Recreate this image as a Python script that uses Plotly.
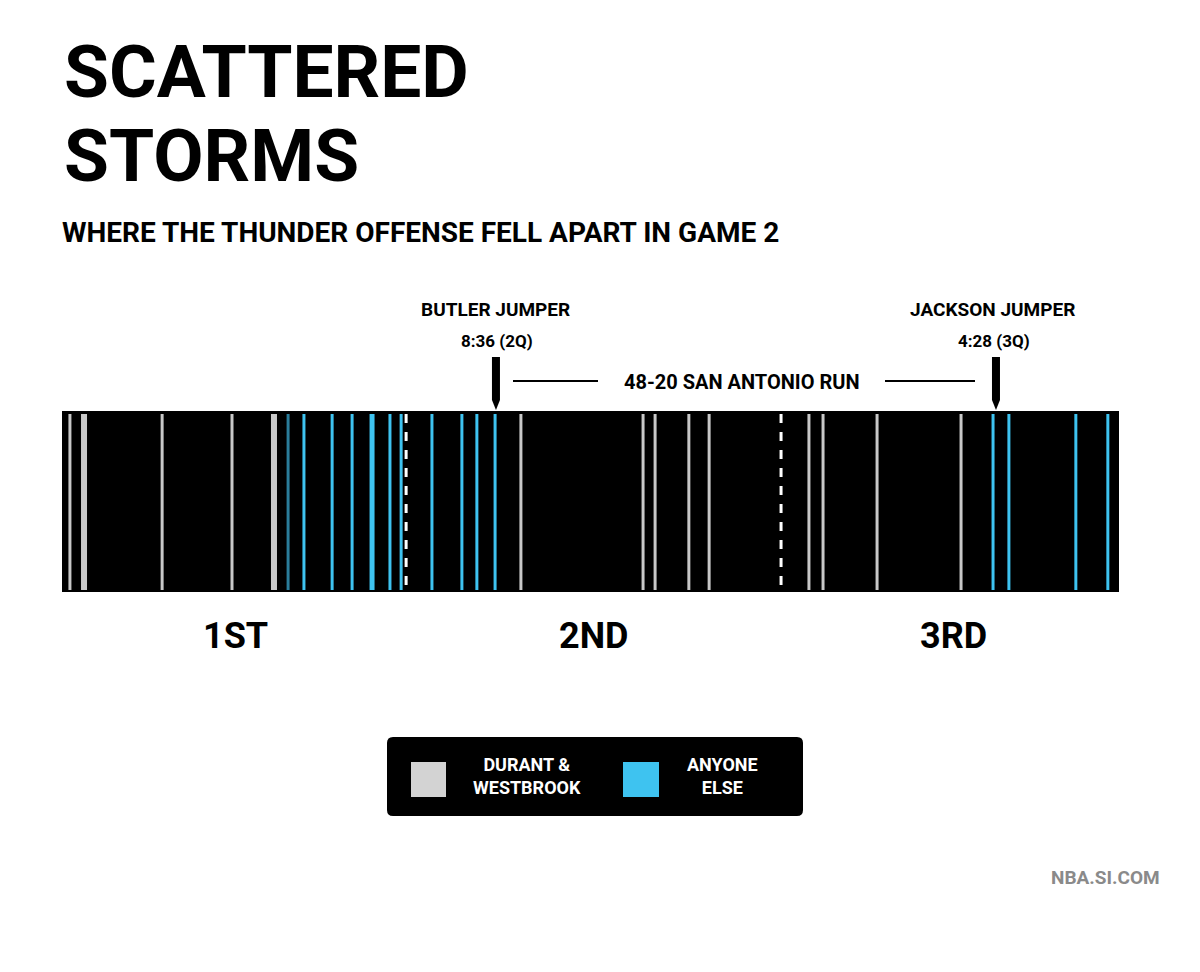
import plotly.graph_objects as go

# shot times, in elapsed game minutes
star_shots = [0.27, 0.75, 3.41, 5.79, 7.22, 15.63, 19.79, 20.20, 21.35, 22.04, 25.44, 25.92, 27.76, 30.62]
star_wide = [False, True, False, False, True, False, False, False, False, False, False, False, False, False]
other_shots = [7.70, 8.24, 9.20, 9.88, 10.56, 11.17, 11.55, 12.60, 13.62, 14.13, 14.75, 31.71, 32.25, 34.53, 35.62]
other_wide = [False, False, False, False, True, False, False, False, False, False, False, False, False, False, False]
quarter_ends = [11.72, 24.49]
quarter_labels = ["1ST", "2ND", "3RD"]
quarter_centers = [5.9, 18.1, 30.35]
markers = [{"t": 14.78, "name": "BUTLER JUMPER", "time": "8:36 (2Q)"},
           {"t": 31.81, "name": "JACKSON JUMPER", "time": "4:28 (3Q)"}]
run_label = "48-20 SAN ANTONIO RUN"

W, H = 1200, 972
OFF = 8  # page body offset
L, R = 62, 1119
k = 36 / (R - L)
def px(v):  # screenshot pixel -> data x (only for layout of decorations)
    return (v - L) * k

FONT = "Roboto, sans-serif"
fig = go.Figure()
shapes = []
BAR_T, BAR_B = 411, 592
shapes.append(dict(type="rect", xref="x", yref="y", x0=0, x1=36, y0=BAR_T, y1=BAR_B,
                   fillcolor="black", line_width=0, layer="below"))
for t, w in zip(star_shots, star_wide):
    shapes.append(dict(type="line", xref="x", yref="y", x0=t, x1=t, y0=BAR_T + 3, y1=BAR_B - 2,
                       line=dict(color="#c8c8c8", width=6 if w else 3)))
for i, (t, w) in enumerate(zip(other_shots, other_wide)):
    col = "#2a7c9a" if i == 0 else "#3ec3f0"
    shapes.append(dict(type="line", xref="x", yref="y", x0=t, x1=t, y0=BAR_T + 3, y1=BAR_B - 2,
                       line=dict(color=col, width=5 if w else 3)))
for q in quarter_ends:
    shapes.append(dict(type="line", xref="x", yref="y", x0=q, x1=q, y0=BAR_T + 3, y1=BAR_B,
                       line=dict(color="white", width=3, dash="dash")))
for m in markers:
    t = m["t"]
    d = 4 * k
    shapes.append(dict(type="path", xref="x", yref="y",
                       path=f"M {t-d},357 L {t+d},357 L {t+d},400 L {t},410 L {t-d},400 Z",
                       fillcolor="black", line_width=0))
shapes.append(dict(type="line", xref="x", yref="y", x0=px(513), x1=px(598), y0=381, y1=381, line=dict(color="black", width=2)))
shapes.append(dict(type="line", xref="x", yref="y", x0=px(885), x1=px(975), y0=381, y1=381, line=dict(color="black", width=2)))
# legend box with rounded corners
x0, x1, y0, y1, r = px(387), px(803), 737, 816, 6
rx = r * k
shapes.append(dict(type="path", xref="x", yref="y",
                   path=(f"M {x0+rx},{y0} L {x1-rx},{y0} Q {x1},{y0} {x1},{y0+r} L {x1},{y1-r} "
                         f"Q {x1},{y1} {x1-rx},{y1} L {x0+rx},{y1} Q {x0},{y1} {x0},{y1-r} "
                         f"L {x0},{y0+r} Q {x0},{y0} {x0+rx},{y0} Z"),
                   fillcolor="black", line_width=0))
shapes.append(dict(type="rect", xref="x", yref="y", x0=px(411), x1=px(446), y0=762, y1=797, fillcolor="#d3d3d3", line_width=0))
shapes.append(dict(type="rect", xref="x", yref="y", x0=px(623), x1=px(659), y0=762, y1=797, fillcolor="#3ec3f0", line_width=0))

ann = []
def txt(x, y, s, size, color="black", anchor="center"):
    ann.append(dict(x=x, y=y, xref="x", yref="y", text=f"<b>{s}</b>", showarrow=False,
                    xanchor=anchor, yanchor="middle", font=dict(family=FONT, size=size, color=color)))

txt(px(62), 72, "SCATTERED", 73, anchor="left")
txt(px(62), 156, "STORMS", 73, anchor="left")
txt(px(60), 232, "WHERE THE THUNDER OFFENSE FELL APART IN GAME 2", 28, anchor="left")
for m, cx in zip(markers, [495, 992]):
    txt(px(cx), 309, m["name"], 19)
    txt(px(cx + 2), 341, m["time"], 17)
txt(px(742), 382, run_label, 20)
for lab, c in zip(quarter_labels, quarter_centers):
    txt(c, 636, lab, 36)
txt(px(527), 776, "DURANT &amp;<br>WESTBROOK", 18, color="white")
txt(px(722), 776, "ANYONE<br>ELSE", 18, color="white")
txt(px(1162), 877, "NBA.SI.COM", 19, color="#8a8a8a", anchor="right")

fig.update_layout(width=W, height=H, margin=dict(l=0, r=0, t=0, b=0),
                  paper_bgcolor="white", plot_bgcolor="white", showlegend=False,
                  shapes=shapes, annotations=ann,
                  xaxis=dict(range=[px(OFF), px(W + OFF)], visible=False, fixedrange=True),
                  yaxis=dict(range=[H + OFF, OFF], visible=False, fixedrange=True))
fig.write_html("out.html")
